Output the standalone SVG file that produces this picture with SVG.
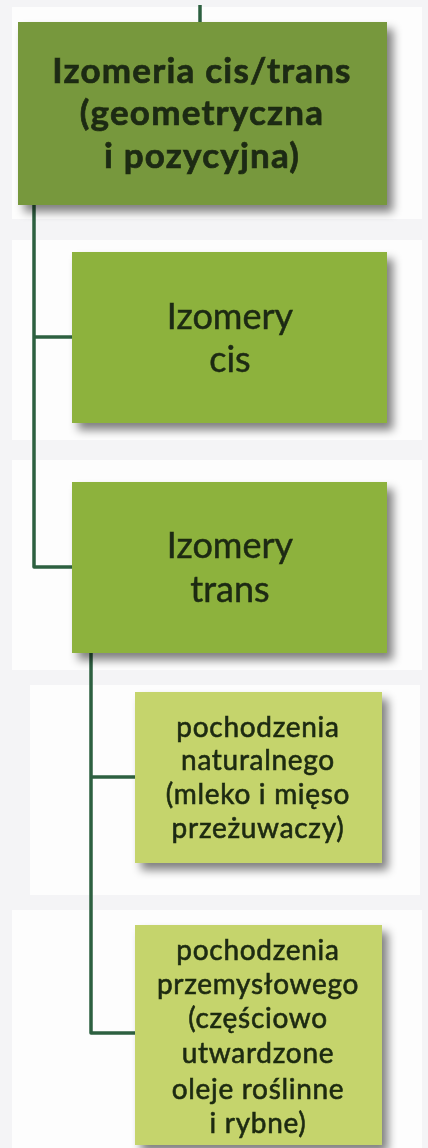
<svg xmlns="http://www.w3.org/2000/svg" width="428" height="1148" viewBox="0 0 428 1148">
<defs>
<filter id="sh" x="-10%" y="-10%" width="130%" height="130%">
<feGaussianBlur in="SourceAlpha" stdDeviation="5"/>
<feOffset dx="6" dy="7" result="b"/>
<feComponentTransfer><feFuncA type="linear" slope="0.5"/></feComponentTransfer>
<feMerge><feMergeNode/><feMergeNode in="SourceGraphic"/></feMerge>
</filter>
<style>
.t{font-family:Lato,"Liberation Sans",sans-serif;fill:#1e2a12;text-anchor:middle;stroke:#1e2a12;stroke-width:0.5}
.b{font-weight:bold;font-size:35px;letter-spacing:1.2px;stroke-width:0.7}
.m{font-size:36px}
.s{font-size:28px;letter-spacing:0.7px;stroke-width:0.6}
.c{fill:none;stroke:#2d6040;stroke-width:3.5;stroke-linejoin:round}
.l1{fill:#77983c}
.l2{fill:#8db23e}
.l3{fill:#c5d46c}
.p{fill:#fdfdfd}
</style>
</defs>
<rect width="428" height="1148" fill="#f4f4f6"/>
<g id="panels">
<rect class="p" x="12" y="7" width="410" height="212"/>
<rect class="p" x="12" y="240" width="410" height="200"/>
<rect class="p" x="12" y="460" width="410" height="210"/>
<rect class="p" x="30" y="685" width="390" height="210"/>
<rect class="p" x="12" y="910" width="410" height="238"/>
</g>
<g id="connectors">
<path class="c" d="M200 5 V24"/>
<path class="c" d="M34 203 V567 H74"/>
<path class="c" d="M34 337 H74"/>
<path class="c" d="M91 651 V1033 H137"/>
<path class="c" d="M91 777 H137"/>
</g>
<g id="n1" filter="url(#sh)">
<rect class="l1" x="18" y="22" width="369" height="183"/>
<text class="t b" x="202" y="83">Izomeria cis/trans</text>
<text class="t b" x="202" y="125">(geometryczna</text>
<text class="t b" x="202" y="168">i pozycyjna)</text>
</g>
<g id="n2" filter="url(#sh)">
<rect class="l2" x="72" y="252" width="315" height="171"/>
<text class="t m" x="230" y="329">Izomery</text>
<text class="t m" x="230" y="372">cis</text>
</g>
<g id="n3" filter="url(#sh)">
<rect class="l2" x="72" y="482" width="315" height="171"/>
<text class="t m" x="230" y="558">Izomery</text>
<text class="t m" x="230" y="602">trans</text>
</g>
<g id="n4" filter="url(#sh)">
<rect class="l3" x="135" y="692" width="247" height="171"/>
<text class="t s" x="258" y="737">pochodzenia</text>
<text class="t s" x="258" y="770">naturalnego</text>
<text class="t s" x="258" y="804">(mleko i mięso</text>
<text class="t s" x="258" y="838">przeżuwaczy)</text>
</g>
<g id="n5" filter="url(#sh)">
<rect class="l3" x="135" y="925" width="247" height="220"/>
<text class="t s" x="258" y="960">pochodzenia</text>
<text class="t s" x="258" y="994">przemysłowego</text>
<text class="t s" x="258" y="1028">(częściowo</text>
<text class="t s" x="258" y="1063">utwardzone</text>
<text class="t s" x="258" y="1099">oleje roślinne</text>
<text class="t s" x="258" y="1133">i rybne)</text>
</g>
</svg>
